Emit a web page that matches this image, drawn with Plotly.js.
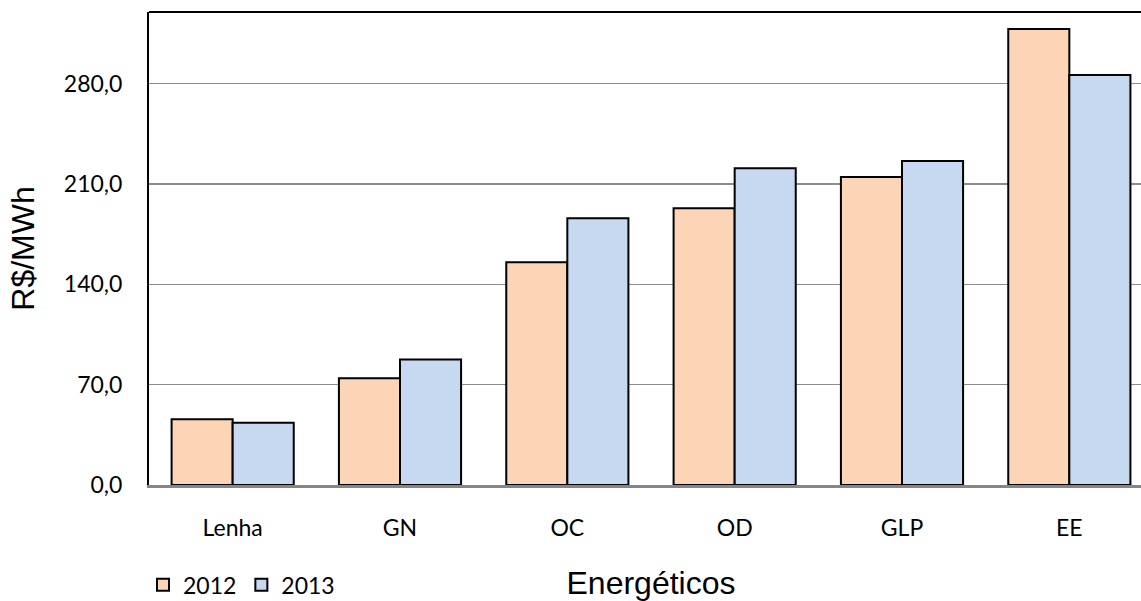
<!DOCTYPE html>
<html>
<head>
<meta charset="utf-8">
<script src="https://cdn.plot.ly/plotly-3.0.1.min.js"></script>
<style>
  html, body { margin: 0; padding: 0; overflow: hidden; background: #ffffff; }
  #chart { width: 1165px; height: 601px; }
</style>
</head>
<body>
<div id="chart"></div>
<script>
// Preço médio por energético (R$/MWh), 2012 e 2013
const energeticos = ["Lenha", "GN", "OC", "OD", "GLP", "EE"];
const precos2012 = [45.8, 74.4, 155.4, 193.1, 214.9, 318.1];
const precos2013 = [43.4, 87.6, 186.1, 221.0, 226.1, 286.0];
const yTicks = [0, 70, 140, 210, 280];

const tickFont = { family: "Lato, 'Open Sans', sans-serif", size: 23, color: "#000000" };
const titleFont = { family: "'Liberation Sans', Arial, sans-serif", size: 32, color: "#000000" };

const traces = [
  {
    type: "bar",
    name: "2012",
    x: energeticos,
    y: precos2012,
    marker: { color: "#FBD5B5", line: { color: "#000000", width: 2 } },
    hoverinfo: "x+y+name"
  },
  {
    type: "bar",
    name: "2013",
    x: energeticos,
    y: precos2013,
    marker: { color: "#C6D9F1", line: { color: "#000000", width: 2 } },
    hoverinfo: "x+y+name"
  }
];

const layout = {
  width: 1165,
  height: 601,
  margin: { l: 149, r: 12, t: 12, b: 116, autoexpand: false },
  paper_bgcolor: "#ffffff",
  plot_bgcolor: "#ffffff",
  separators: ",.",
  barmode: "group",
  bargap: 0.27,
  bargroupgap: 0,
  showlegend: true,
  legend: {
    orientation: "h",
    x: -0.006,
    xanchor: "left",
    y: -0.211,
    yanchor: "middle",
    font: tickFont,
    traceorder: "normal",
    itemwidth: 30,
    bgcolor: "rgba(0,0,0,0)"
  },
  xaxis: {
    type: "category",
    tickfont: tickFont,
    ticks: "",
    ticklabelstandoff: 21,
    showgrid: false,
    showline: true,
    linecolor: "#868686",
    linewidth: 2.5,
    zeroline: false,
    automargin: false,
    title: { text: "Energéticos", font: titleFont, standoff: 41 }
  },
  yaxis: {
    range: [0, 330],
    tickvals: yTicks,
    tickformat: ".1f",
    tickfont: tickFont,
    ticks: "",
    ticklabelstandoff: 20,
    showgrid: true,
    gridcolor: "#8c8c8c",
    gridwidth: 1.6,
    showline: true,
    linecolor: "#000000",
    linewidth: 2,
    zeroline: false,
    automargin: false,
    title: { text: "R$/MWh", font: titleFont, standoff: 20 }
  },
  shapes: [
    {
      type: "line",
      xref: "paper",
      yref: "paper",
      x0: 0,
      x1: 1,
      y0: 1,
      y1: 1,
      line: { color: "#000000", width: 2 }
    }
  ]
};

Plotly.newPlot("chart", traces, layout, { displayModeBar: false, staticPlot: true });
</script>
</body>
</html>
